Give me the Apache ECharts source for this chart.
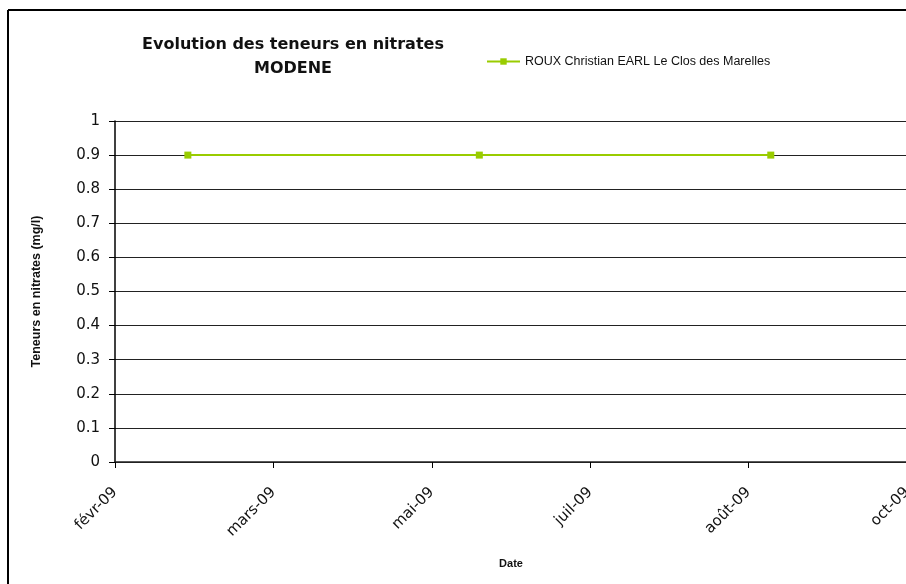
<!DOCTYPE html>
<html><head><meta charset="utf-8">
<script src="https://cdn.jsdelivr.net/npm/echarts@6/dist/echarts.min.js"></script>
<style>html,body{margin:0;padding:0;background:#fff}#c{width:906px;height:584px}</style>
</head><body><div id="c"></div>
<script>
var seriesName = 'ROUX Christian EARL Le Clos des Marelles';
var sampleDates = ['2009-02-24', '2009-05-27', '2009-08-27'];
var nitrateValues = [0.9, 0.9, 0.9];
var xTickLabels = ['févr-09', 'mars-09', 'mai-09', 'juil-09', 'août-09', 'oct-09'];
var yTickLabels = ['0', '0.1', '0.2', '0.3', '0.4', '0.5', '0.6', '0.7', '0.8', '0.9', '1'];
var originDate = '2009-02-01';
var dayStep = 50;

var t0 = Date.parse(originDate);
function dayOffset(s) { return Math.round((Date.parse(s) - t0) / 86400000); }
var pts = sampleDates.map(function (d, i) { return [dayOffset(d), nitrateValues[i]]; });

var chart = echarts.init(document.getElementById('c'));
chart.setOption({
  animation: false,
  backgroundColor: '#fff',
  graphic: [
    { type: 'line', shape: { x1: 8, y1: 10, x2: 906, y2: 10 }, style: { stroke: '#000', lineWidth: 2 }, silent: true },
    { type: 'line', shape: { x1: 8, y1: 10, x2: 8, y2: 584 }, style: { stroke: '#000', lineWidth: 2 }, silent: true }
  ],
  title: {
    text: 'Evolution des teneurs en nitrates\nMODENE',
    left: 288, top: 28, textAlign: 'center',
    textStyle: { fontFamily: 'DejaVu Sans', fontSize: 16, fontWeight: 'bold', color: '#111', lineHeight: 24 }
  },
  legend: {
    left: 486, top: 55, padding: 0, itemWidth: 33, itemHeight: 8, itemGap: 4,
    textStyle: { fontFamily: 'Liberation Sans, Arial', fontSize: 12.5, color: '#111' },
    data: [{ name: seriesName }]
  },
  grid: { left: 115, top: 121, width: 792, bottom: 122, containLabel: false, outerBoundsMode: 'none' },
  xAxis: {
    type: 'value', min: 0, max: dayStep * (xTickLabels.length - 1), interval: dayStep,
    name: 'Date', nameLocation: 'middle', nameGap: 96,
    nameTextStyle: { fontFamily: 'Liberation Sans, Arial', fontSize: 11, fontWeight: 'bold', color: '#111' },
    axisLine: { show: true, onZero: false, lineStyle: { color: '#222', width: 1.5 } },
    axisTick: { show: true, inside: false, length: 6, lineStyle: { color: '#000' } },
    splitLine: { show: false },
    axisLabel: {
      rotate: 45, margin: 28, showMaxLabel: true, showMinLabel: true, hideOverlap: false,
      fontFamily: 'DejaVu Sans', fontSize: 15, color: '#111',
      formatter: function (v) { return xTickLabels[Math.round(v / dayStep)] || ''; }
    }
  },
  yAxis: {
    type: 'value', min: 0, max: 1, interval: 0.1,
    name: 'Teneurs en nitrates (mg/l)', nameLocation: 'middle', nameGap: 72,
    nameTextStyle: { fontFamily: 'Liberation Sans, Arial', fontSize: 12.5, fontWeight: 'bold', color: '#111' },
    axisLine: { show: true, lineStyle: { color: '#000', width: 1.5 } },
    axisTick: { show: true, inside: false, length: 6, lineStyle: { color: '#000' } },
    splitLine: { show: true, lineStyle: { color: '#222', width: 1 } },
    axisLabel: {
      margin: 15, fontFamily: 'DejaVu Sans', fontSize: 15, color: '#111',
      formatter: function (v) { return yTickLabels[Math.round(v * 10)]; }
    }
  },
  series: [{
    name: seriesName, type: 'line', data: pts,
    symbol: 'rect', symbolSize: 7,
    lineStyle: { color: '#99CC00', width: 2 },
    itemStyle: { color: '#99CC00' },
    z: 5
  }]
});
</script></body></html>
